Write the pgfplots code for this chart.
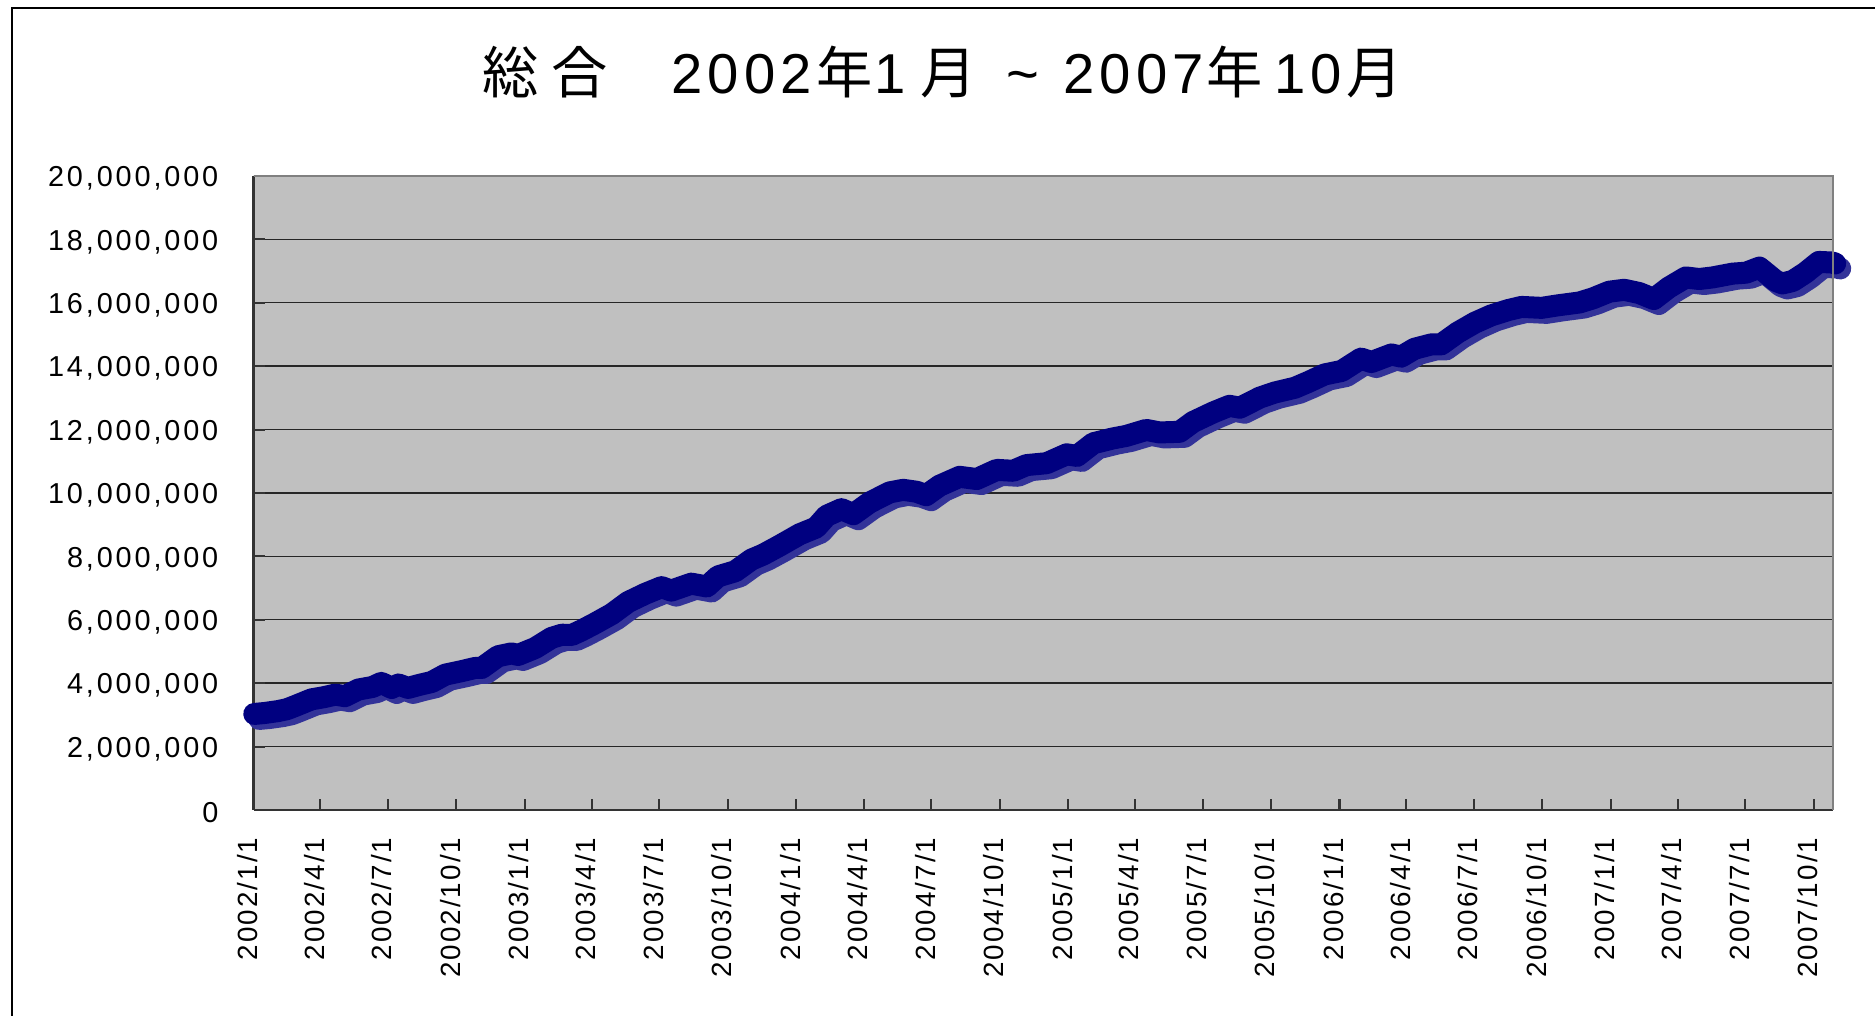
\documentclass[border=0pt]{standalone}
\usepackage{pgfplots}
\pgfplotsset{compat=1.18}
\usepackage{pgfplotstable}
\usepackage{fontspec}
\setmainfont{Liberation Sans}
\newfontfamily\ytickfont{Liberation Sans}[LetterSpace=10]
\newfontfamily\xtickfont{Liberation Sans}[LetterSpace=7.5]
\newfontfamily\titlelatin{Liberation Sans}[LetterSpace=9]
\newfontfamily\cjk{Noto Sans CJK JP}
\definecolor{plotbg}{RGB}{192,192,192}
\definecolor{navyline}{RGB}{0,0,128}
\definecolor{shadowblue}{RGB}{51,51,153}

\pgfplotstableread{
day value
1 3030000
15 3060000
33 3120000
45 3180000
56 3280000
78 3490000
95 3560000
110 3640000
123 3590000
141 3800000
160 3880000
172 4010000
186 3850000
195 3960000
208 3850000
222 3940000
240 4040000
258 4270000
280 4380000
298 4480000
307 4480000
329 4850000
347 4940000
356 4890000
379 5110000
401 5430000
415 5530000
428 5520000
441 5660000
459 5880000
482 6180000
504 6560000
527 6820000
549 7030000
562 6920000
589 7140000
610 7050000
625 7370000
648 7530000
670 7900000
686 8060000
708 8340000
735 8700000
757 8910000
771 9280000
791 9490000
807 9330000
829 9700000
856 10020000
874 10100000
892 10040000
905 9930000
923 10230000
950 10510000
973 10440000
1000 10730000
1022 10700000
1040 10880000
1067 10940000
1094 11220000
1108 11170000
1130 11570000
1156 11720000
1174 11800000
1201 11990000
1219 11910000
1246 11930000
1264 12240000
1291 12540000
1313 12750000
1327 12690000
1354 13010000
1374 13170000
1401 13320000
1419 13500000
1441 13740000
1464 13850000
1490 14240000
1504 14130000
1531 14370000
1544 14300000
1562 14550000
1585 14690000
1598 14690000
1620 15060000
1643 15370000
1665 15600000
1688 15770000
1706 15870000
1733 15840000
1755 15920000
1784 16010000
1802 16140000
1824 16350000
1844 16410000
1864 16310000
1884 16120000
1904 16480000
1927 16800000
1945 16750000
1963 16800000
1990 16920000
2008 16950000
2026 17110000
2048 16690000
2057 16610000
2071 16690000
2088 16950000
2106 17290000
2124 17270000
2128 17240000
}\total

\begin{document}
\begin{tikzpicture}
\useasboundingbox (0,0) rectangle (18.75cm,10.16cm);
\draw[line width=0.6pt, black] (0.12cm,-1cm) -- (0.12cm,10.076cm) -- (20cm,10.076cm);
% title, set piece by piece to follow the reference's wide spacing
\begin{scope}[every node/.style={inner sep=0pt, font=\cjk\fontsize{16}{19}\selectfont}]
\node[anchor=base] at (5.108cm,9.227cm) {総};
\node[anchor=base] at (5.792cm,9.227cm) {合};
\node[anchor=base] at (8.442cm,9.227cm) {年};
\node[anchor=base] at (9.483cm,9.227cm) {月};
\node[anchor=base] at (12.35cm,9.227cm) {年};
\node[anchor=base] at (13.742cm,9.227cm) {月};
\end{scope}
\begin{scope}[every node/.style={inner sep=0pt, anchor=base west, font=\titlelatin\fontsize{16}{19}\selectfont}]
\node at (6.71cm,9.227cm) {2002};
\node at (8.74cm,9.227cm) {1};
\node at (10.06cm,9.227cm) {\string~};
\node at (10.63cm,9.227cm) {2007};
\node at (12.74cm,9.227cm) {10};
\end{scope}
\begin{axis}[
  at={(2.535cm,2.06cm)}, anchor=south west,
  scale only axis,
  width=15.795cm, height=6.34cm,
  xmin=0, xmax=2125,
  ymin=0, ymax=20000000,
  clip=false,
  axis background/.style={fill=plotbg},
  axis x line*=bottom, axis y line*=left,
  axis line style={draw=black!80, line width=0.7pt},
  after end axis/.code={\draw[black!50, line width=0.7pt] (rel axis cs:0,1) -- (rel axis cs:1,1) -- (rel axis cs:1,0);},
  ymajorgrids,
  major grid style={draw=black!85, line width=0.4pt},
  tick align=inside,
  major tick length=0.11cm,
  tick style={draw=black!80, line width=0.6pt},
  xtick={0,90,181,273,365,455,546,638,730,821,912,1004,1096,1186,1277,1369,1461,1551,1642,1734,1826,1916,2007,2099},
  xticklabels={2002/1/1,2002/4/1,2002/7/1,2002/10/1,2003/1/1,2003/4/1,2003/7/1,2003/10/1,2004/1/1,2004/4/1,2004/7/1,2004/10/1,2005/1/1,2005/4/1,2005/7/1,2005/10/1,2006/1/1,2006/4/1,2006/7/1,2006/10/1,2007/1/1,2007/4/1,2007/7/1,2007/10/1},
  ytick={0,2000000,4000000,6000000,8000000,10000000,12000000,14000000,16000000,18000000,20000000},
  yticklabels={0,{2,000,000},{4,000,000},{6,000,000},{8,000,000},{10,000,000},{12,000,000},{14,000,000},{16,000,000},{18,000,000},{20,000,000}},
  scaled y ticks=false,
  xticklabel style={xshift=-0.06cm, rotate=90, anchor=east, inner sep=0pt, font=\xtickfont\fontsize{7.9}{10}\selectfont},
  yticklabel style={yshift=-0.025cm, anchor=east, inner sep=0pt, font=\ytickfont\fontsize{8.2}{10}\selectfont},
  xticklabel shift=0.27cm,
  yticklabel shift=0.345cm,
]
\addplot[color=shadowblue, line width=0.22cm, line join=round, line cap=round, xshift=0.05cm, yshift=-0.05cm] table[x=day, y=value] {\total};
\addplot[color=navyline, line width=0.22cm, line join=round, line cap=round] table[x=day, y=value] {\total};
\end{axis}
\end{tikzpicture}
\end{document}
